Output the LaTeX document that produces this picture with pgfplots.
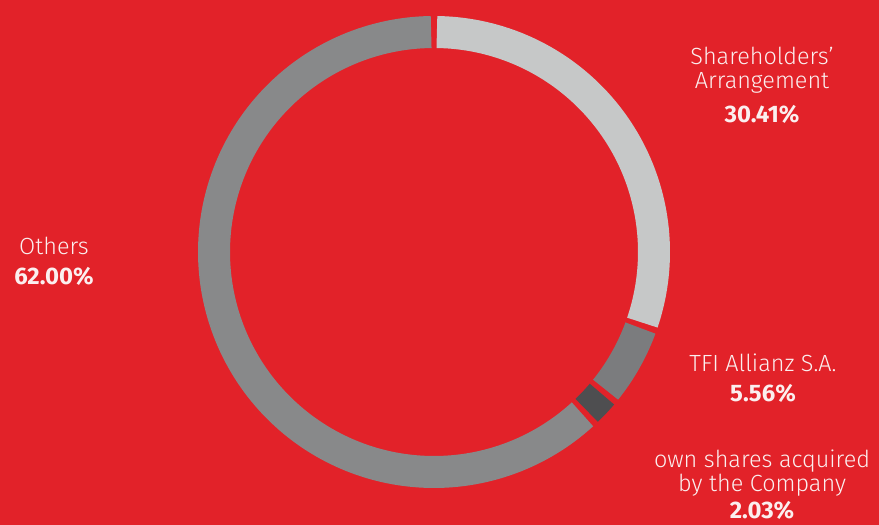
\documentclass[border=0pt]{standalone}
\usepackage{pgfplots}
\usepackage{pgfplotstable}
\pgfplotsset{compat=1.18}
\usepackage{fontspec}
\setmainfont{Fira Sans Light}[BoldFont={Fira Sans Bold}]
\definecolor{bgred}{HTML}{E22229}
\definecolor{cA}{HTML}{C6C8C8}
\definecolor{cB}{HTML}{7B7C7E}
\definecolor{cC}{HTML}{4E4E50}
\definecolor{cD}{HTML}{88898A}
\definecolor{txt}{HTML}{FBEFEF}
\pgfplotstableread{
label pct
Shareholders 30.41
TFI 5.56
Own 2.03
Others 62.00
}\shares
\begin{document}%
\begin{tikzpicture}
\pgfplotstablegetelem{0}{pct}\of\shares \let\pA\pgfplotsretval
\pgfplotstablegetelem{1}{pct}\of\shares \let\pB\pgfplotsretval
\pgfplotstablegetelem{2}{pct}\of\shares \let\pC\pgfplotsretval
\pgfplotstablegetelem{3}{pct}\of\shares \let\pD\pgfplotsretval
\pgfmathsetmacro\aA{90}
\pgfmathsetmacro\aB{\aA-3.6*\pA}
\pgfmathsetmacro\aC{\aB-3.6*\pB}
\pgfmathsetmacro\aD{\aC-3.6*\pC}
\pgfmathsetmacro\aE{\aD-3.6*\pD}
\pgfmathsetmacro\g{0.75}
\pgfmathsetmacro\sA{\aB+\g}\pgfmathsetmacro\eA{\aA-\g}
\pgfmathsetmacro\sB{\aC+\g}\pgfmathsetmacro\eB{\aB-\g}
\pgfmathsetmacro\sC{\aD+\g}\pgfmathsetmacro\eC{\aC-\g}
\pgfmathsetmacro\sD{\aE+\g}\pgfmathsetmacro\eD{\aD-\g}
\begin{axis}[
  scale only axis, width=879bp, height=525bp,
  xmin=0, xmax=879, ymin=0, ymax=525,
  hide axis, clip=true,
]
\fill[bgred] (axis cs:0,0) rectangle (axis cs:879,525);
\addplot[domain=\sA:\eA, samples=80, line width=32bp, draw=cA] ({434+220*cos(x)},{273+220*sin(x)});
\addplot[domain=\sB:\eB, samples=30, line width=32bp, draw=cB] ({434+220*cos(x)},{273+220*sin(x)});
\addplot[domain=\sC:\eC, samples=10, line width=32bp, draw=cC] ({434+220*cos(x)},{273+220*sin(x)});
\addplot[domain=\sD:\eD, samples=160, line width=32bp, draw=cD] ({434+220*cos(x)},{273+220*sin(x)});
\begin{scope}[every node/.style={text=txt, font=\fontsize{23.5}{24}\selectfont, inner sep=0pt, align=center}]
\node at (axis cs:762,455) {Shareholders\char"27\\Arrangement};
\node[font=\fontsize{24}{26}\selectfont\bfseries] at (axis cs:762,411) {30.41\%};
\node at (axis cs:763,162) {TFI Allianz S.A.};
\node[font=\fontsize{24}{26}\selectfont\bfseries] at (axis cs:763,132) {5.56\%};
\node at (axis cs:762,52) {own shares acquired\\by the Company};
\node[font=\fontsize{24}{26}\selectfont\bfseries] at (axis cs:762,15) {2.03\%};
\node at (axis cs:54,279) {Others};
\node[font=\fontsize{24}{26}\selectfont\bfseries] at (axis cs:54,249) {62.00\%};
\end{scope}
\end{axis}
\end{tikzpicture}%
\end{document}
